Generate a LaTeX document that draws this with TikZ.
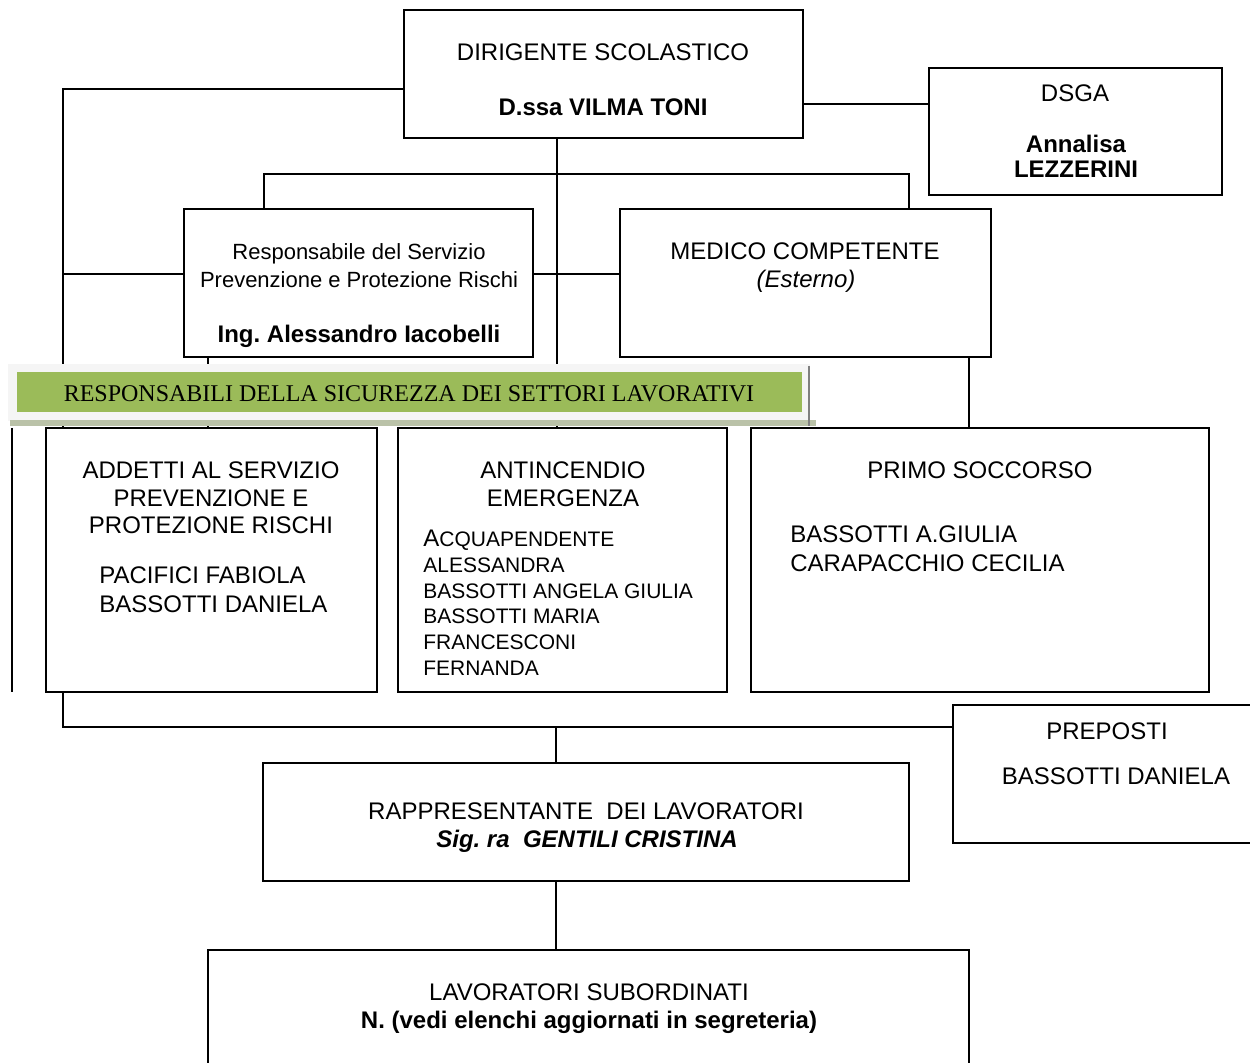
\documentclass[tikz,border=0pt]{standalone}
\usepackage{fontspec}
\setmainfont{Liberation Sans}
\newfontfamily\bannerfont{Liberation Serif}
\definecolor{bangreen}{HTML}{9BBB59}
\definecolor{banhatch}{HTML}{BAC2A8}
\frenchspacing

\begin{document}
\begin{tikzpicture}[x=0.5pt, y=-0.5pt]
        \tikzset{box/.style = {shape=rectangle, draw, line width=0.9pt, fill=white, inner sep=0pt},
                 txt/.style = {inner sep=0pt, anchor=base, font=\fontsize{12}{14}\selectfont},
                 list/.style = {anchor=north west, align=left},
                 link/.style = {line width=0.9pt}}
        \useasboundingbox (0,0) rectangle (1250,1063);
        % boxes
        \node[box, minimum width=199.5pt, minimum height=64pt] (dir) at (603.5,74) {};
        \node[box, minimum width=146.5pt, minimum height=63.5pt] (dsga) at (1075.5,131.5) {};
        \node[box, minimum width=174.5pt, minimum height=74pt] (rspp) at (358.5,283) {};
        \node[box, minimum width=185.5pt, minimum height=74pt] (medico) at (805.5,283) {};
        \node[box, minimum width=165.5pt, minimum height=132pt] (addetti) at (211.5,560) {};
        \node[box, minimum width=164.5pt, minimum height=132pt] (antinc) at (562.5,560) {};
        \node[box, minimum width=229pt, minimum height=132pt] (primo) at (980,560) {};
        \node[box, minimum width=150.5pt, minimum height=69pt] (prep) at (1103.5,774) {};
        \node[box, minimum width=323pt, minimum height=59pt] (rapp) at (586,822) {};
        \node[box, minimum width=380.5pt, minimum height=60pt] (lav) at (588.5,1010) {};
        % links
        \coordinate (lftTop) at (63,89);
        \coordinate (lftBot) at (63,727);
        \coordinate (dsgaY) at (0,104);
        \coordinate (spine) at (557,0);
        \coordinate (brL) at (264,174);
        \coordinate (brR) at (909,174);
        \coordinate (midY) at (0,274);
        \coordinate (raX) at (208,0);
        \coordinate (mpX) at (969,0);
        \coordinate (edgeT) at (12,428);
        \coordinate (edgeB) at (12,692);
        \coordinate (lowX) at (556,727);
        \draw[link] (dir.west |- lftTop) -- (lftTop) -- (addetti.north -| lftTop);
        \draw[link] (addetti.south -| lftBot) -- (lftBot) -- (lftBot -| prep.west);
        \draw[link] (dir.east |- dsgaY) -- (dsga.west |- dsgaY);
        \draw[link] (dir.south -| spine) -- (antinc.north -| spine);
        \draw[link] (rspp.north -| brL) -- (brL) -- (brR) -- (medico.north -| brR);
        \draw[link] (rspp.west |- midY) -- (lftTop |- midY);
        \draw[link] (rspp.east |- midY) -- (medico.west |- midY);
        \draw[link] (rspp.south -| raX) -- (addetti.north -| raX);
        \draw[link] (medico.south -| mpX) -- (primo.north -| mpX);
        \draw[link] (edgeT) -- (edgeB);
        \draw[link] (lowX) -- (rapp.north -| lowX);
        \draw[link] (rapp.south -| lowX) -- (lav.north -| lowX);
        % banner
        \fill[gray!8] (8,364) rectangle (810,421);
        \fill[banhatch] (10,420) rectangle (816,426);
        \draw[gray, line width=0.6pt] (809,366) -- (809,426);
        \node[shape=rectangle, fill=bangreen, inner sep=0pt, minimum width=392.5pt, minimum height=20pt] (ban) at (409.5,392) {};
        \node[txt, font=\bannerfont\fontsize{12}{14}\selectfont] (banT) at (409,402) {RESPONSABILI DELLA SICUREZZA DEI SETTORI LAVORATIVI};
        % texts
        \node[txt] (dirA) at (603,60.6) {DIRIGENTE SCOLASTICO};
        \node[txt, font=\fontsize{12}{14}\selectfont\bfseries] (dirB) at (603,115.6) {D.ssa VILMA TONI};
        \node[txt] (dsgaA) at (1075,101.6) {DSGA};
        \node[txt, anchor=north, align=center, font=\fontsize{12}{12.5}\selectfont\bfseries] (dsgaB) at (1076,134.4) {Annalisa\\LEZZERINI};
        \node[txt, anchor=north, align=center, font=\fontsize{11}{14}\selectfont] (rsppA) at (359,243) {Responsabile del Servizio\\Prevenzione e Protezione Rischi};
        \node[txt, font=\fontsize{12}{14}\selectfont\bfseries] (rsppB) at (359,342.6) {Ing. Alessandro Iacobelli};
        \node[txt] (medA) at (805,259.6) {MEDICO COMPETENTE};
        \node[txt, font=\fontsize{12}{14}\selectfont\itshape] (medB) at (806,287.6) {(Esterno)};
        \node[txt, anchor=north, align=center, font=\fontsize{12}{13.75}\selectfont] (addA) at (211,461.4) {ADDETTI AL SERVIZIO\\PREVENZIONE E\\PROTEZIONE RISCHI};
        \node[txt, list, font=\fontsize{12}{14.5}\selectfont] (addB) at (99,566.4) {PACIFICI FABIOLA\\BASSOTTI DANIELA};
        \node[txt, anchor=north, align=center, font=\fontsize{12}{13.75}\selectfont] (antA) at (563,461.4) {ANTINCENDIO\\EMERGENZA};
        \node[txt, list, font=\fontsize{10.5}{12.9}\selectfont] (antB) at (423,529.5) {{\fontsize{12}{12}\selectfont A}CQUAPENDENTE\\ALESSANDRA\\BASSOTTI ANGELA GIULIA\\BASSOTTI MARIA\\FRANCESCONI\\FERNANDA};
        \node[txt] (priA) at (980,478.6) {PRIMO SOCCORSO};
        \node[txt, list, font=\fontsize{12}{14.5}\selectfont] (priB) at (790,525.4) {BASSOTTI A.GIULIA\\CARAPACCHIO CECILIA};
        \node[txt] (prepA) at (1107,739.6) {PREPOSTI};
        \node[txt] (prepB) at (1116,784.6) {BASSOTTI DANIELA};
        \node[txt] (rappA) at (586,819.6) {RAPPRESENTANTE\ \ DEI LAVORATORI};
        \node[txt, font=\fontsize{12}{14}\selectfont\bfseries\itshape] (rappB) at (587,847.6) {Sig. ra\ \ GENTILI CRISTINA};
        \node[txt] (lavA) at (589,1000.6) {LAVORATORI SUBORDINATI};
        \node[txt, font=\fontsize{12}{14}\selectfont\bfseries] (lavB) at (589,1028.6) {N. (vedi elenchi aggiornati in segreteria)};
\end{tikzpicture}
\end{document}
